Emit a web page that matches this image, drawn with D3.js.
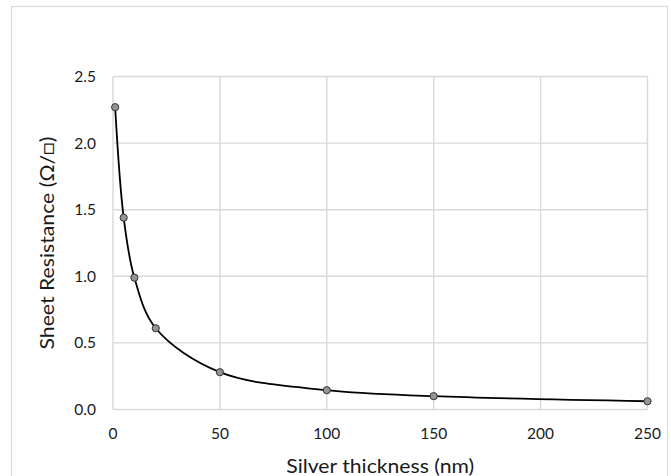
<!DOCTYPE html>
<html>
<head>
  <meta charset="utf-8">
  <title>Sheet resistance vs silver thickness</title>
  <style>
    body { margin: 0; background: #fff; }
    .grid line { stroke: #d9d9d9; stroke-width: 1.4px; }
    .tick-label { font: 15.5px Lato, sans-serif; fill: #1a1a1a; }
    .axis-title { font: 19px Lato, sans-serif; fill: #1a1a1a; }
    .curve { fill: none; stroke: #000; stroke-width: 1.8px; }
    .dot { fill: #959595; stroke: #333; stroke-width: 1px; }
  </style>
  <script src="https://d3js.org/d3.v7.min.js"></script>
</head>
<body>
  <script>
    // data
    var thickness = [1, 5, 10, 20, 50, 100, 150, 250];
    var resistance = [2.27, 1.44, 0.99, 0.61, 0.28, 0.145, 0.10, 0.062];
    var xTicks = [0, 50, 100, 150, 200, 250];
    var yTicks = [0, 0.5, 1.0, 1.5, 2.0, 2.5];

    var width = 671, height = 476;
    var svg = d3.select('body').append('svg')
      .attr('width', width)
      .attr('height', height);

    // chart frame
    svg.append('rect')
      .attr('x', 11.5).attr('y', 6.5)
      .attr('width', 656).attr('height', 480)
      .attr('fill', '#fff')
      .attr('stroke', '#d9d9d9')
      .attr('stroke-width', 1.2);

    var x = d3.scaleLinear().domain([0, 250]).range([113, 647.5]);
    var y = d3.scaleLinear().domain([0, 2.5]).range([409.5, 76.5]);

    var grid = svg.append('g').attr('class', 'grid');
    grid.selectAll('.gx')
      .data(xTicks)
      .enter().append('line')
        .attr('x1', d => x(d)).attr('x2', d => x(d))
        .attr('y1', y(2.5)).attr('y2', y(0));
    grid.selectAll('.gy')
      .data(yTicks)
      .enter().append('line')
        .attr('x1', x(0)).attr('x2', x(250))
        .attr('y1', d => y(d)).attr('y2', d => y(d));

    // tick labels
    svg.selectAll('.ylab')
      .data(yTicks)
      .enter().append('text')
        .attr('class', 'tick-label')
        .attr('x', 96)
        .attr('y', d => y(d))
        .attr('dy', '0.36em')
        .style('text-anchor', 'end')
        .text(d => d3.format('.1f')(d));

    svg.selectAll('.xlab')
      .data(xTicks)
      .enter().append('text')
        .attr('class', 'tick-label')
        .attr('x', d => x(d))
        .attr('y', 433)
        .attr('dy', '0.36em')
        .style('text-anchor', 'middle')
        .text(d => d);

    // axis titles
    svg.append('text')
      .attr('class', 'axis-title')
      .attr('x', (x(0) + x(250)) / 2)
      .attr('y', 466)
      .attr('dy', '0.36em')
      .style('text-anchor', 'middle')
      .attr('textLength', 188)
      .attr('lengthAdjust', 'spacingAndGlyphs')
      .text('Silver thickness (nm)');

    svg.append('text')
      .attr('class', 'axis-title')
      .attr('transform', 'translate(47,' + (y(0) + y(2.5)) / 2 + ') rotate(-90)')
      .attr('dy', '0.36em')
      .style('text-anchor', 'middle')
      .attr('textLength', 213)
      .attr('lengthAdjust', 'spacingAndGlyphs')
      .text('Sheet Resistance (Ω/□)');

    // smoothed line + markers
    var pts = thickness.map((t, i) => [t, resistance[i]]);
    var line = d3.line()
      .x(d => x(d[0]))
      .y(d => y(d[1]))
      .curve(d3.curveCatmullRom.alpha(0.5));

    svg.append('path')
      .datum(pts)
      .attr('class', 'curve')
      .attr('d', line);

    svg.selectAll('.dot')
      .data(pts)
      .enter().append('circle')
        .attr('class', 'dot')
        .attr('cx', d => x(d[0]))
        .attr('cy', d => y(d[1]))
        .attr('r', 3.6);
  </script>
</body>
</html>
